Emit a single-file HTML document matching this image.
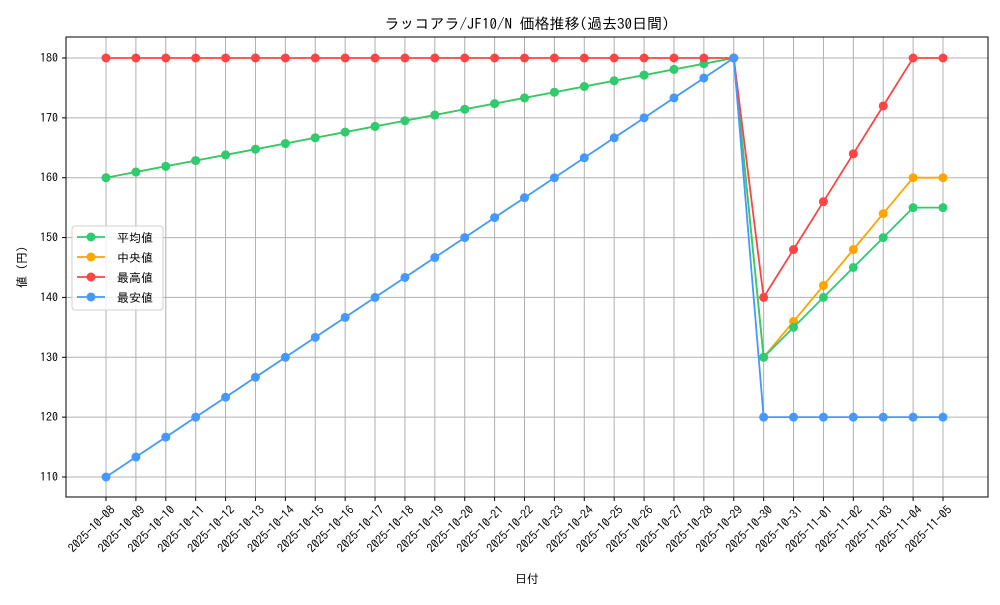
<!DOCTYPE html>
<html><head><meta charset="utf-8"><style>
body{margin:0;background:#fff}
svg text{font-family:"IPAGothic","Liberation Sans","Noto Sans CJK JP",sans-serif;fill:#000}
</style></head><body>
<svg id="s" width="1000" height="600" xmlns="http://www.w3.org/2000/svg"></svg>
<script>
const s=document.getElementById('s');
const L=66,R=988,T=37,B=497;
const X=i=>106+i*(943-106)/28;
const Y=v=>58+(180-v)*(477-58)/70;
let h='<rect x="0" y="0" width="1000" height="600" fill="#fff"/>';
const dates=[];
for(let d=8;d<=31;d++)dates.push('2025-10-'+String(d).padStart(2,'0'));
for(let d=1;d<=5;d++)dates.push('2025-11-0'+d);
// grid
for(let i=0;i<29;i++){const x=X(i);h+=`<line x1="${x}" y1="${T}" x2="${x}" y2="${B}" stroke="#b0b0b0" stroke-width="1"/>`;
h+=`<line x1="${x}" y1="${B}" x2="${x}" y2="${B+4}" stroke="#000"/>`;
h+=`<text transform="translate(${x+4},${B+8}) rotate(-45)" text-anchor="end" font-size="12" dominant-baseline="hanging">${dates[i]}</text>`;}
for(let v=110;v<=180;v+=10){const y=Y(v);h+=`<line x1="${L}" y1="${y}" x2="${R}" y2="${y}" stroke="#b0b0b0" stroke-width="1"/>`;
h+=`<line x1="${L-4}" y1="${y}" x2="${L}" y2="${y}" stroke="#000"/>`;
h+=`<text x="${L-8}" y="${y+4}" text-anchor="end" font-size="12">${v}</text>`;}
const mean=[],med=[],mx=[],mn=[];
for(let i=0;i<=21;i++){mean.push(160+i*20/21);med.push(160+i*20/21);mx.push(180);mn.push(110+i*70/21);}
mean.push(130,135,140,145,150,155,155);
med.push(130,136,142,148,154,160,160);
mx.push(140,148,156,164,172,180,180);
for(let i=0;i<7;i++)mn.push(120);
function ser(a,c){let p=a.map((v,i)=>X(i).toFixed(1)+','+Y(v).toFixed(1)).join(' ');
h+=`<polyline points="${p}" fill="none" stroke="${c}" stroke-width="1.8"/>`;
a.forEach((v,i)=>h+=`<circle cx="${X(i)}" cy="${Y(v)}" r="4.5" fill="${c}"/>`);}
ser(med,'#ffa500');ser(mean,'#2ecc71');ser(mx,'#ff4444');ser(mn,'#4499ff');
h+=`<rect x="${L}" y="${T}" width="${R-L}" height="${B-T}" fill="none" stroke="#000" stroke-width="1"/>`;
h+=`<text x="527" y="29" text-anchor="middle" font-size="15">ラッコアラ/JF10/N 価格推移(過去30日間)</text>`;
h+=`<text x="527" y="583" text-anchor="middle" font-size="12">日付</text>`;
h+=`<text transform="translate(26,267) rotate(-90)" text-anchor="middle" font-size="12">値 (円)</text>`;
h+=`<rect x="72" y="226" width="91" height="84" rx="3" fill="#fff" fill-opacity="0.8" stroke="#d0d0d0"/>`;
[['平均値','#2ecc71'],['中央値','#ffa500'],['最高値','#ff4444'],['最安値','#4499ff']].forEach((e,k)=>{const y=237+k*20;
h+=`<line x1="77" y1="${y}" x2="105" y2="${y}" stroke="${e[1]}" stroke-width="1.8"/><circle cx="91" cy="${y}" r="4.5" fill="${e[1]}"/>`;
h+=`<text x="117" y="${y+5}" font-size="12">${e[0]}</text>`;});
s.innerHTML=h;
</script>
</body></html>
